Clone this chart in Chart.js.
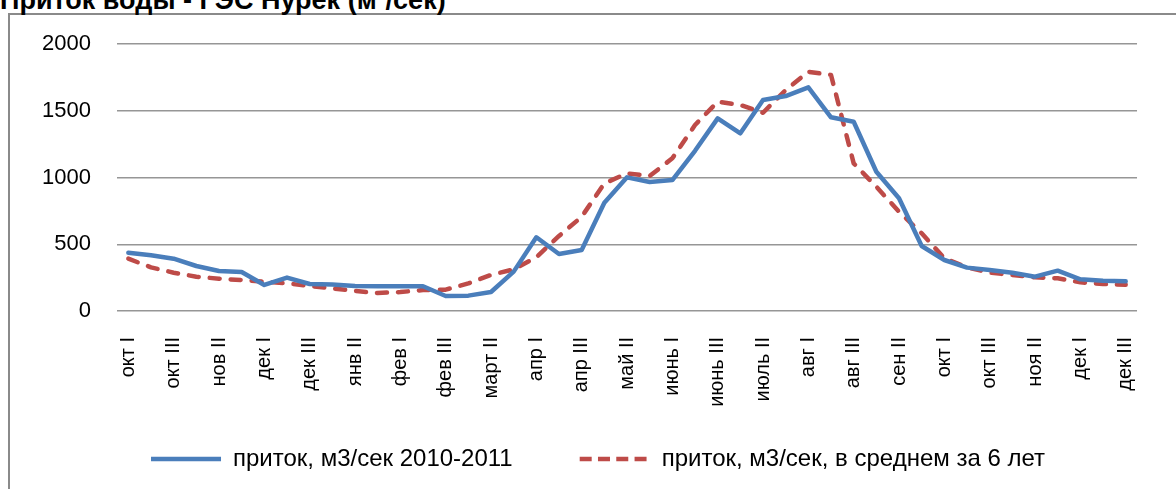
<!DOCTYPE html>
<html>
<head>
<meta charset="utf-8">
<script src="https://cdn.jsdelivr.net/npm/chart.js@4.4.1/dist/chart.umd.min.js"></script>
<style>
    body { margin: 0; background: #fff; overflow: hidden; }
    #title {
        position: absolute; left: 0; top: -14px;
        font: bold 27px "Liberation Sans", Arial, sans-serif;
        line-height: 28px; white-space: nowrap; color: #000;
    }
    #frame {
        position: absolute; left: 8px; top: 13px;
        width: 1300px; height: 600px;
        border: 2px solid #8a8a8a;
    }
    #inflowChart { position: absolute; left: 0; top: 0; }
</style>
</head>
<body>
<div id="frame"></div>
<div id="title">Приток воды - ГЭС Нурек (м³/сек)</div>
<canvas id="inflowChart" width="1176" height="489"></canvas>
<script>
/*****************************************************************************/
/* Data: dekads (10-day periods) from Oct 2010 to Dec 2011 */
/*****************************************************************************/
var periods = [
    "окт I", "окт II", "окт III", "нов I", "нов II", "нов III",
    "дек I", "дек II", "дек III", "янв I", "янв II", "янв III",
    "фев I", "фев II", "фев III", "март I", "март II", "март III",
    "апр I", "апр II", "апр III", "май I", "май II", "май III",
    "июнь I", "июнь II", "июнь III", "июль I", "июль II", "июль III",
    "авг I", "авг II", "авг III", "сен I", "сен II", "сен III",
    "окт I", "окт II", "окт III", "ноя I", "ноя II", "ноя III",
    "дек I", "дек II", "дек III"
];

// приток, м3/сек 2010-2011
var inflow2010 = [
    437, 417, 392, 337, 300, 292, 195, 250, 202, 198, 187, 185,
    185, 185, 112, 115, 142, 295, 552, 427, 457, 811, 1001, 966,
    981, 1200, 1443, 1331, 1580, 1610, 1675, 1451, 1418, 1043, 844, 487,
    382, 325, 307, 287, 257, 302, 237, 227, 222
];

// приток, м3/сек, в среднем за 6 лет
var inflowAvg = [
    392, 327, 287, 257, 242, 232, 220, 207, 187, 170, 150, 135,
    142, 157, 160, 207, 270, 312, 403, 562, 706, 956, 1031, 1011,
    1144, 1393, 1568, 1543, 1485, 1655, 1792, 1768, 1106, 931, 744, 582,
    395, 327, 287, 270, 252, 245, 215, 202, 197
];

var yTicks = [0, 500, 1000, 1500, 2000];

/*****************************************************************************/
/* Legend placement: wide gap between items, so the box is moved after layout */
/*****************************************************************************/
var legendShift = {
    id: "legendShift",
    afterLayout: function (chart) {
        var lg = chart.legend;
        lg.top = 380;
        lg.bottom = 489;
        lg.height = 109;
        lg.left += 24;
        lg.right += 24;
    }
};

/*****************************************************************************/
/* Chart */
/*****************************************************************************/
function drawChart() {
    var ctx = document.getElementById("inflowChart").getContext("2d");

    var chartData = {
        labels: periods,
        datasets: [
            {
                label: "приток, м3/сек 2010-2011",
                data: inflow2010,
                borderColor: "#4a7ebb",
                backgroundColor: "#4a7ebb",
                borderWidth: 4.5,
                borderCapStyle: "round",
                borderJoinStyle: "round",
                pointRadius: 0,
                tension: 0,
                fill: false
            },
            {
                label: "приток, м3/сек, в среднем за 6 лет",
                data: inflowAvg,
                borderColor: "#be4b48",
                backgroundColor: "#be4b48",
                borderWidth: 4.5,
                borderDash: [10, 11],
                borderCapStyle: "round",
                borderJoinStyle: "round",
                pointRadius: 0,
                tension: 0,
                fill: false
            }
        ]
    };

    var chartOptions = {
        responsive: false,
        animation: false,
        layout: {
            padding: { left: 0, right: 28, top: 44, bottom: 0 }
        },
        plugins: {
            title: { display: false },
            tooltip: { enabled: false },
            legend: {
                position: "bottom",
                maxHeight: 50,
                labels: {
                    usePointStyle: true,
                    pointStyle: "line",
                    pointStyleWidth: 70,
                    padding: 67,
                    color: "#000",
                    font: { family: "Liberation Sans", size: 24 },
                    generateLabels: function (chart) {
                        var items = Chart.defaults.plugins.legend.labels.generateLabels(chart);
                        // shorter dashes in the legend sample, as in the original
                        items[1].lineDash = [12, 6.29];
                        return items;
                    }
                }
            }
        },
        scales: {
            x: {
                offset: true,
                grid: { display: false, drawTicks: false },
                border: { display: false },
                ticks: {
                    autoSkip: false,
                    minRotation: 90,
                    maxRotation: 90,
                    padding: 26,
                    color: "#000",
                    font: { family: "Liberation Sans", size: 20 },
                    // every second dekad is labelled
                    callback: function (value, index) {
                        return index % 2 === 0 ? periods[index] : "";
                    }
                },
                afterFit: function (scale) { scale.height = 128; }
            },
            y: {
                min: yTicks[0],
                max: yTicks[yTicks.length - 1],
                grid: { color: "#969696", lineWidth: 1.5, drawTicks: false },
                border: { display: false },
                ticks: {
                    padding: 26,
                    color: "#000",
                    font: { family: "Liberation Sans", size: 22 },
                    callback: function (value) { return String(value); }
                },
                afterBuildTicks: function (scale) {
                    scale.ticks = yTicks.map(function (v) { return { value: v }; });
                },
                afterFit: function (scale) { scale.width = 117; }
            }
        }
    };

    new Chart(ctx, {
        type: "line",
        data: chartData,
        options: chartOptions,
        plugins: [legendShift]
    });
}

drawChart();
</script>
</body>
</html>
